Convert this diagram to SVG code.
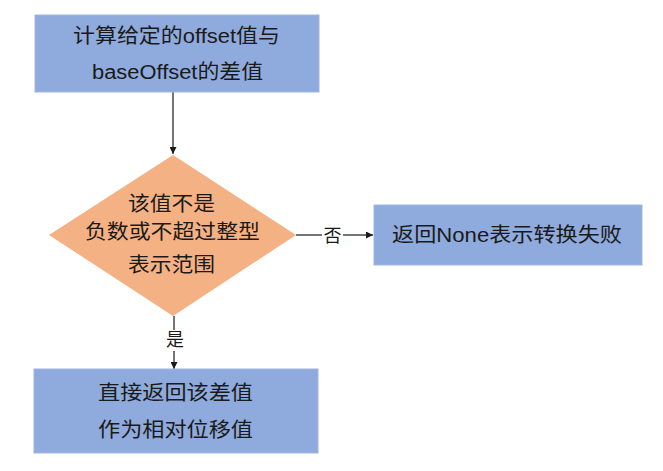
<svg xmlns="http://www.w3.org/2000/svg" width="663" height="471" viewBox="0 0 663 471">
<style>
.box{fill:#8faadc;stroke:#9fb6e0;stroke-width:1}
.dia{fill:#f4b183}
.t{font-family:"Liberation Sans","Noto Sans CJK SC",sans-serif;font-size:20px;fill:#1a1a1a;text-anchor:middle;dominant-baseline:central}
.lbl{font-family:"Liberation Sans","Noto Sans CJK SC",sans-serif;font-size:18px;fill:#1a1a1a;text-anchor:middle;dominant-baseline:central}
.ln{stroke:#1a1a1a;stroke-width:1.2;fill:none}
</style>
<defs>
<marker id="ah" viewBox="0 0 10 10" refX="10" refY="5" markerWidth="7" markerHeight="7" markerUnits="userSpaceOnUse" orient="auto">
<path d="M0,0 L10,5 L0,10 z" fill="#1a1a1a"/>
</marker>
</defs>
<rect width="663" height="471" fill="#ffffff"/>
<g id="connectors">
<line class="ln" x1="173" y1="92" x2="173" y2="154" marker-end="url(#ah)"/>
<line class="ln" x1="296" y1="235" x2="322" y2="235"/>
<line class="ln" x1="343" y1="235" x2="373" y2="235" marker-end="url(#ah)"/>
<text class="lbl" x="332.5" y="236">否</text>
<line class="ln" x1="174" y1="316" x2="174" y2="330"/>
<line class="ln" x1="174" y1="351" x2="174" y2="369" marker-end="url(#ah)"/>
<text class="lbl" x="175" y="340">是</text>
</g>
<g id="n1">
<rect class="box" x="35" y="15" width="284" height="77"/>
<text class="t" x="176.5" y="36" textLength="207" lengthAdjust="spacingAndGlyphs">计算给定的offset值与</text>
<text class="t" x="177.5" y="72" textLength="171" lengthAdjust="spacingAndGlyphs">baseOffset的差值</text>
</g>
<g id="n2">
<polygon class="dia" points="173,155 296,235 173,316 49,235"/>
<text class="t" x="171.5" y="203.5" textLength="87" lengthAdjust="spacingAndGlyphs">该值不是</text>
<text class="t" x="172.5" y="232" textLength="175" lengthAdjust="spacingAndGlyphs">负数或不超过整型</text>
<text class="t" x="171.5" y="265" textLength="87" lengthAdjust="spacingAndGlyphs">表示范围</text>
</g>
<g id="n3">
<rect class="box" x="374" y="205" width="268" height="60"/>
<text class="t" x="507" y="235" textLength="230" lengthAdjust="spacingAndGlyphs">返回None表示转换失败</text>
</g>
<g id="n4">
<rect class="box" x="34" y="369" width="284" height="84"/>
<text class="t" x="175.5" y="393" textLength="155" lengthAdjust="spacingAndGlyphs">直接返回该差值</text>
<text class="t" x="175.5" y="430" textLength="155" lengthAdjust="spacingAndGlyphs">作为相对位移值</text>
</g>
</svg>
